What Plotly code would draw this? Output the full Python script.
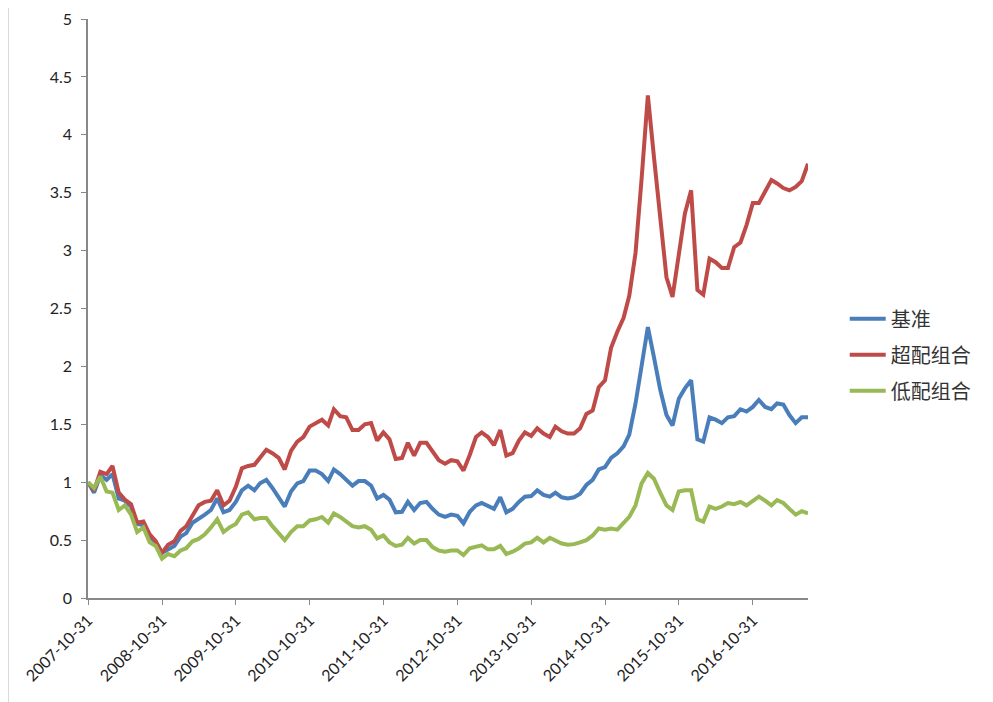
import plotly.graph_objects as go
import pandas as pd

dates = pd.date_range("2007-10-31", periods=118, freq="ME")

benchmark = [1.00, 0.91, 1.06, 1.02, 1.07, 0.86, 0.84, 0.79, 0.64, 0.63,
             0.53, 0.48, 0.39, 0.42, 0.45, 0.53, 0.56, 0.65, 0.68, 0.72,
             0.76, 0.86, 0.74, 0.76, 0.83, 0.93, 0.97, 0.93, 0.99, 1.02,
             0.95, 0.875, 0.79, 0.92, 0.99, 1.01, 1.10, 1.10, 1.07, 1.01,
             1.11, 1.07, 1.02, 0.97, 1.01, 1.01, 0.97, 0.86, 0.89, 0.85,
             0.74, 0.745, 0.83, 0.76, 0.82, 0.83, 0.77, 0.72, 0.70, 0.72,
             0.71, 0.645, 0.745, 0.80, 0.82, 0.79, 0.77, 0.87, 0.74, 0.77,
             0.83, 0.875, 0.88, 0.93, 0.89, 0.875, 0.91, 0.87, 0.86, 0.87,
             0.90, 0.976, 1.02, 1.11, 1.13, 1.21, 1.25, 1.31, 1.41, 1.68,
             2.03, 2.34, 2.08, 1.80, 1.58, 1.49, 1.72, 1.81, 1.88, 1.37,
             1.35, 1.56, 1.54, 1.51, 1.56, 1.57, 1.63, 1.61, 1.65, 1.71,
             1.65, 1.63, 1.68, 1.67, 1.58, 1.51, 1.56, 1.56]

overweight = [1.00, 0.93, 1.09, 1.07, 1.14, 0.91, 0.85, 0.81, 0.65, 0.66,
              0.55, 0.49, 0.39, 0.46, 0.49, 0.58, 0.62, 0.72, 0.80, 0.83,
              0.84, 0.93, 0.80, 0.84, 0.96, 1.12, 1.14, 1.15, 1.21, 1.28,
              1.25, 1.21, 1.11, 1.27, 1.35, 1.39, 1.48, 1.51, 1.54, 1.49,
              1.63, 1.57, 1.56, 1.45, 1.45, 1.50, 1.51, 1.36, 1.43, 1.37,
              1.20, 1.21, 1.34, 1.23, 1.34, 1.34, 1.26, 1.19, 1.16, 1.19,
              1.18, 1.10, 1.235, 1.39, 1.43, 1.39, 1.32, 1.45, 1.23, 1.25,
              1.36, 1.43, 1.40, 1.465, 1.42, 1.39, 1.48, 1.44, 1.42, 1.42,
              1.465, 1.59, 1.62, 1.82, 1.88, 2.16, 2.30, 2.42, 2.61, 2.98,
              3.62, 4.34, 3.81, 3.26, 2.77, 2.60, 2.98, 3.32, 3.52, 2.66,
              2.62, 2.93, 2.90, 2.85, 2.85, 3.03, 3.07, 3.22, 3.41, 3.41,
              3.51, 3.61, 3.58, 3.54, 3.52, 3.55, 3.60, 3.75]

underweight = [1.00, 0.95, 1.05, 0.92, 0.91, 0.76, 0.80, 0.72, 0.57, 0.61,
               0.48, 0.45, 0.34, 0.38, 0.36, 0.41, 0.43, 0.49, 0.51, 0.55,
               0.61, 0.68, 0.57, 0.61, 0.64, 0.72, 0.74, 0.68, 0.69, 0.69,
               0.62, 0.56, 0.50, 0.57, 0.62, 0.62, 0.67, 0.68, 0.70, 0.65,
               0.73, 0.70, 0.66, 0.62, 0.61, 0.62, 0.59, 0.515, 0.54, 0.48,
               0.45, 0.46, 0.52, 0.47, 0.50, 0.50, 0.44, 0.41, 0.40, 0.41,
               0.41, 0.37, 0.43, 0.44, 0.455, 0.42, 0.42, 0.45, 0.38, 0.40,
               0.43, 0.47, 0.48, 0.52, 0.48, 0.52, 0.50, 0.47, 0.46, 0.465,
               0.48, 0.50, 0.54, 0.60, 0.59, 0.60, 0.59, 0.65, 0.70, 0.80,
               0.99, 1.08, 1.03, 0.91, 0.80, 0.76, 0.92, 0.93, 0.93, 0.68,
               0.66, 0.79, 0.77, 0.79, 0.82, 0.81, 0.83, 0.80, 0.84, 0.875,
               0.84, 0.80, 0.845, 0.82, 0.77, 0.72, 0.75, 0.73]

tick_dates = ["2007-10-31", "2008-10-31", "2009-10-31", "2010-10-31",
              "2011-10-31", "2012-10-31", "2013-10-31", "2014-10-31",
              "2015-10-31", "2016-10-31"]
y_ticks = [0, 0.5, 1, 1.5, 2, 2.5, 3, 3.5, 4, 4.5, 5]
y_ticktext = ["0", "0.5", "1", "1.5", "2", "2.5", "3", "3.5", "4", "4.5", "5"]

series = [("基准", benchmark, "#4A7EBB"),
          ("超配组合", overweight, "#BE4B48"),
          ("低配组合", underweight, "#98B954")]

fig = go.Figure()
for name, vals, color in series:
    fig.add_trace(go.Scatter(x=dates, y=vals, mode="lines", name=name,
                             legendgroup=name,
                             line=dict(color=color, width=4)))

font_fam = "Lato, 'Noto Sans CJK SC', sans-serif"
fig.update_layout(
    width=985, height=694,
    margin=dict(l=80, r=185, t=11, b=104, autoexpand=False),
    paper_bgcolor="white", plot_bgcolor="white",
    font=dict(family=font_fam, size=14, color="#222222"),
    showlegend=True,
    legend=dict(x=1.051, y=0.42, xanchor="left", yanchor="middle",
                font=dict(size=20, color="#333333",
                          family="'Noto Sans CJK SC', sans-serif"),
                tracegroupgap=7, itemwidth=36, bgcolor="rgba(0,0,0,0)"),
    xaxis=dict(type="date", range=[dates[0], dates[-1]], automargin=False,
               tickvals=tick_dates, ticktext=tick_dates, tickangle=-45,
               showgrid=False, zeroline=False, showline=True,
               linecolor="#888888", linewidth=1.5, ticks="outside",
               ticklen=5, tickcolor="#888888",
               tickfont=dict(size=16, color="#222222")),
    yaxis=dict(range=[0, 5], tickvals=y_ticks, ticktext=y_ticktext,
               automargin=False,
               showgrid=False, zeroline=False, showline=True,
               linecolor="#888888", linewidth=1.5, ticks="outside",
               ticklen=5, tickcolor="#888888", ticklabelstandoff=6,
               tickfont=dict(size=16, color="#222222")),
    shapes=[dict(type="line", xref="paper", yref="paper",
                 x0=(0.5 - 80) / 720, x1=(0.5 - 80) / 720,
                 y0=-104 / 579, y1=1 + 11 / 579,
                 line=dict(color="#d9d9d9", width=1))],
)

fig.write_html("out.html")
